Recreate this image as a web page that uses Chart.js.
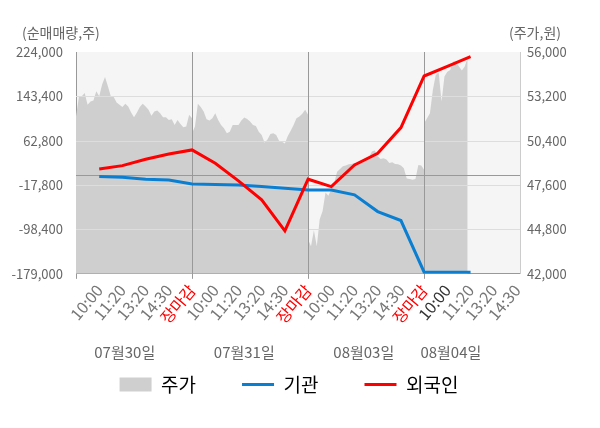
<!DOCTYPE html>
<html>
<head>
<meta charset="utf-8">
<script src="https://cdn.jsdelivr.net/npm/chart.js@4.4.0/dist/chart.umd.min.js"></script>
<style>
  html, body { margin: 0; padding: 0; background: #fff; }
  #wrap { width: 600px; height: 428px; }
</style>
</head>
<body>
<div id="wrap"><canvas id="chart"></canvas></div>
<script>
// x axis runs in slots: 5 per trading day (10:00, 11:20, 13:20, 14:30, 장마감)
const tickLabels = [
  '10:00', '11:20', '13:20', '14:30', '장마감',
  '10:00', '11:20', '13:20', '14:30', '장마감',
  '10:00', '11:20', '13:20', '14:30', '장마감',
  '10:00', '11:20', '13:20', '14:30'
];
const dayLabels = ['07월30일', '07월31일', '08월03일', '08월04일'];
const dayLabelPos = [2.1, 7.25, 12.4, 16.15];
const dayEnds = [5, 10, 15];

const leftTicks = [-179000, -98400, -17800, 62800, 143400, 224000];
const rightTicks = [42000, 44800, 47600, 50400, 53200, 56000];

// net buying (shares), one value per slot 1..17
const institution = [-2400, -3500, -7100, -8400, -15600, -16500, -17500, -20500, -23400,
  -26500, -26800, -35600, -65900, -82200, -176000, -176000, -176000];
const foreign = [11600, 17600, 29200, 38800, 46100, 22000, -10000, -44700, -100900,
  -7100, -20500, 18900, 40100, 86600, 180400, 198000, 215500];

// share price, sampled every 1/8 slot
const priceDay1 = [51927, 53158, 53200, 53412, 52670, 52882, 52945, 53518, 53200, 53942,
  54430, 53836, 53200, 53158, 52818, 52670, 52521, 52733, 52564, 52182,
  51885, 52182, 52521, 52733, 52564, 52352, 51970, 52245, 52309, 52140,
  51885, 51885, 51715, 51758, 51397, 51715, 51461, 51249, 51291, 52033, 51821];
const priceDay2 = [50867, 51291, 52733, 52521, 52245, 51758, 51673, 51821, 52140, 51715,
  51397, 51185, 50867, 50973, 51397, 51397, 51397, 51673, 51864, 51779,
  51609, 51397, 51334, 50973, 50761, 50273, 50485, 50824, 50867, 50761,
  50400, 50336, 50230, 50697, 51037, 51397, 51821, 51927, 52097, 52352, 52033];
const priceDay3 = [44164, 43740, 44758, 43740, 45437, 45967, 47133, 46921, 47345, 47727,
  48448, 48618, 48788, 48830, 48915, 48936, 49000, 48915, 49042, 49212,
  49297, 49360, 49721, 49785, 49424, 49254, 49297, 49212, 49000, 49042,
  48936, 48915, 48830, 48660, 48024, 47982, 47939, 47982, 48873, 48830, 48576];
const priceDay4 = [51500, 51820, 52134, 53600, 54550, 54700, 52870, 54450, 54760, 54870,
  55400, 55400, 55080, 54830, 55080, 55670];

const BLUE = '#0a7fd2';
const RED = '#ff0000';
const FILL = '#cfcfcf';

const priceDays = [priceDay1, priceDay2, priceDay3, priceDay4];
const pricePoints = [];
priceDays.forEach((day, d) => {
  day.forEach((v, i) => pricePoints.push({ x: d * 5 + i * 0.125, y: v }));
});
const toSlots = arr => arr.map((v, i) => ({ x: i + 1, y: v }));

Chart.defaults.font.family = "'Noto Sans CJK KR', 'Noto Sans', sans-serif";
Chart.defaults.color = '#666';

const overlay = {
  id: 'overlay',
  beforeDraw(chart) {
    const { ctx, chartArea: a } = chart;
    ctx.save();
    ctx.fillStyle = '#f5f5f5';
    ctx.fillRect(a.left, a.top, a.right - a.left, a.bottom - a.top);
    ctx.restore();
  },
  // grid sits on top of the price area but under the two lines
  afterDatasetDraw(chart, args) {
    if (args.index !== 0) return;
    const { ctx, chartArea: a, scales } = chart;
    const hline = y => { ctx.beginPath(); ctx.moveTo(a.left, y); ctx.lineTo(a.right, y); ctx.stroke(); };
    ctx.save();
    ctx.lineWidth = 1;
    ctx.strokeStyle = '#dddddd';
    leftTicks.slice(1, -1).forEach(v => hline(Math.round(scales.y.getPixelForValue(v)) + 0.5));
    ctx.strokeStyle = '#999';
    hline(Math.round(scales.y.getPixelForValue(0)) + 0.5);
    dayEnds.forEach(v => {
      const x = Math.round(scales.x.getPixelForValue(v)) + 0.5;
      ctx.beginPath(); ctx.moveTo(x, a.top); ctx.lineTo(x, a.bottom); ctx.stroke();
    });
    ctx.restore();
  },
  afterDraw(chart) {
    const { ctx, scales } = chart;
    ctx.save();
    ctx.fillStyle = '#666';
    ctx.textBaseline = 'middle';
    ctx.textAlign = 'left';
    ctx.font = "14px 'Noto Sans CJK KR'";
    ctx.fillText('(순매매량,주)', 22, 33);
    ctx.fillText('(주가,원)', 509, 33);
    ctx.font = "15px 'Noto Sans CJK KR'";
    ctx.textAlign = 'center';
    dayLabels.forEach((t, i) => ctx.fillText(t, scales.x.getPixelForValue(dayLabelPos[i]), 352));
    ctx.restore();
  }
};

new Chart(document.getElementById('chart'), {
  type: 'line',
  data: {
    datasets: [
      {
        label: '주가',
        data: pricePoints,
        yAxisID: 'y1',
        fill: 'start',
        backgroundColor: FILL,
        borderWidth: 0,
        pointRadius: 0,
        order: 3
      },
      {
        label: '기관',
        data: toSlots(institution),
        yAxisID: 'y',
        borderColor: BLUE,
        borderWidth: 3,
        pointRadius: 0,
        order: 2
      },
      {
        label: '외국인',
        data: toSlots(foreign),
        yAxisID: 'y',
        borderColor: RED,
        borderWidth: 3,
        pointRadius: 0,
        order: 1
      }
    ]
  },
  options: {
    responsive: true,
    maintainAspectRatio: false,
    animation: false,
    layout: { padding: { top: 52, left: 0, right: 22, bottom: 24 } },
    scales: {
      x: {
        type: 'linear',
        min: 0,
        max: 19.13,
        afterBuildTicks: s => { s.ticks = [0].concat(tickLabels.map((_, i) => i + 1)).map(v => ({ value: v })); },
        ticks: {
          autoSkip: false,
          minRotation: 50,
          maxRotation: 50,
          padding: 2,
          font: { size: 16 },
          callback: v => tickLabels[v - 1] || '',
          color: c => {
            const v = c.tick ? c.tick.value : 0;
            if (v % 5 === 0) return RED;
            if (v === 16) return '#333';
            return '#777';
          }
        },
        grid: {
          drawOnChartArea: false,
          tickLength: 5,
          color: c => (c.tick && (c.tick.value === 0 || dayEnds.includes(c.tick.value))) ? '#999' : 'rgba(0,0,0,0)'
        },
        border: { color: '#999' }
      },
      y: {
        position: 'left',
        min: -179000,
        max: 224000,
        afterBuildTicks: s => { s.ticks = leftTicks.map(v => ({ value: v })); },
        afterFit: s => { s.width = 76; },
        ticks: { padding: 13, font: { size: 13 }, callback: v => v.toLocaleString('en-US') },
        grid: { display: false, drawTicks: false },
        border: { color: '#999' }
      },
      y1: {
        position: 'right',
        min: 42000,
        max: 56000,
        afterBuildTicks: s => { s.ticks = rightTicks.map(v => ({ value: v })); },
        afterFit: s => { s.width = 58; },
        ticks: { padding: 7, font: { size: 13 }, callback: v => v.toLocaleString('en-US') },
        grid: { display: false, drawTicks: false },
        border: { color: '#ccc' }
      }
    },
    plugins: {
      tooltip: { enabled: false },
      legend: {
        position: 'bottom',
        labels: {
          usePointStyle: true,
          pointStyleWidth: 32,
          boxHeight: 14,
          padding: 46,
          color: '#444',
          font: { size: 19 },
          generateLabels: () => [
            { text: '주가', fillStyle: FILL, strokeStyle: FILL, lineWidth: 0, pointStyle: 'rect', datasetIndex: 0 },
            { text: '기관', fillStyle: BLUE, strokeStyle: BLUE, lineWidth: 3, pointStyle: 'line', datasetIndex: 1 },
            { text: '외국인', fillStyle: RED, strokeStyle: RED, lineWidth: 3, pointStyle: 'line', datasetIndex: 2 }
          ]
        }
      }
    }
  },
  plugins: [overlay]
});
</script>
</body>
</html>
